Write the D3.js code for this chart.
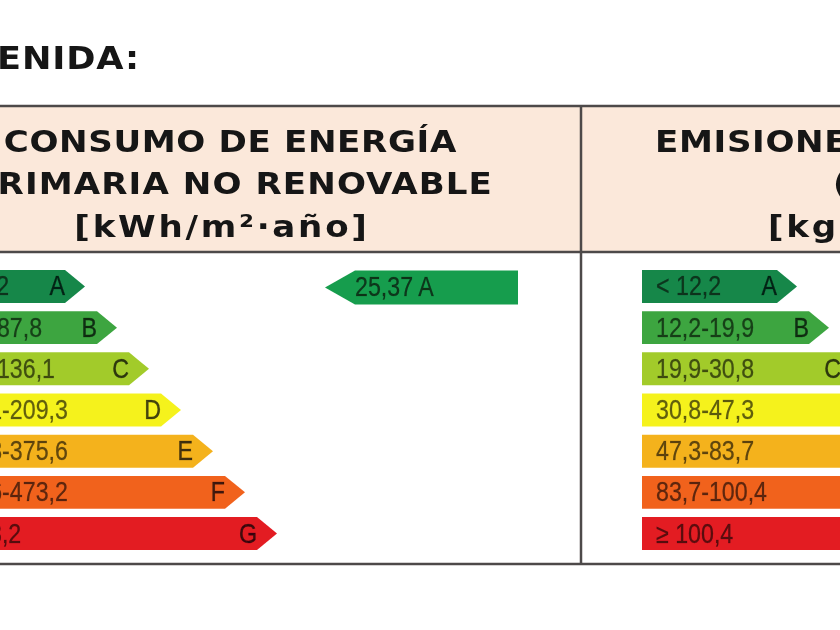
<!DOCTYPE html>
<html><head><meta charset="utf-8">
<script src="https://cdn.jsdelivr.net/npm/d3@7"></script>
<style>html,body{margin:0;padding:0;background:#fff;overflow:hidden}</style>
</head><body>
<svg id="c" width="840" height="630"></svg>
<script>
const classes = ["A","B","C","D","E","F","G"];
const energyRanges = ["< 54,2","54,2-87,8","87,8-136,1","136,1-209,3","209,3-375,6","375,6-473,2","≥ 473,2"];
const emissionRanges = ["< 12,2","12,2-19,9","19,9-30,8","30,8-47,3","47,3-83,7","83,7-100,4","≥ 100,4"];
const classColors = ["#14874a","#3ca540","#a2cb2c","#f5f21e","#f4b21e","#f1621f","#e31b24"];
const energyValue = "25,37";
const energyClass = "A";
const titleText = "CALIFICACIÓN ENERGÉTICA OBTENIDA:";
const energyHeader = ["CONSUMO DE ENERGÍA","PRIMARIA NO RENOVABLE","[kWh/m²·año]"];
const emissionHeader = ["EMISIONES DE DIÓXIDO","(CO₂)","[kgCO₂/m²·año]"];

const svg = d3.select("#c");
svg.append("rect").attr("width",840).attr("height",630).attr("fill","#fff");
const defs = svg.append("defs");
defs.append("filter").attr("id","soft").append("feGaussianBlur").attr("stdDeviation",0.45);
const root = svg.append("g").attr("filter","url(#soft)");

const y = d3.scaleBand().domain(classes).range([270,550]).paddingInner(0.2);
const len = d3.scaleLinear().domain([0,6]).range([155,347]);
const color = d3.scaleOrdinal().domain(classes).range(classColors);
const head = 20;
const SX = 1.1;

function boldText(parent, x, yy, txt, anchor, size, ls){
  return parent.append("text").attr("transform",`translate(${x},${yy}) scale(${SX},1)`)
    .attr("text-anchor",anchor).attr("font-family","DejaVu Sans").attr("font-weight","bold")
    .attr("font-size",size).attr("letter-spacing",ls).attr("fill","#131313").text(txt);
}

// title
boldText(root, 140, 69, titleText, "end", 32, 0.8);

// header band
root.append("rect").attr("x",-10).attr("y",106).attr("width",860).attr("height",146).attr("fill","#fbe8da");
const line = (x1,y1,x2,y2)=>root.append("line").attr("x1",x1).attr("y1",y1).attr("x2",x2).attr("y2",y2)
  .attr("stroke","#4d4a48").attr("stroke-width",2.5);
line(-10,106,850,106); line(-10,252,850,252); line(-10,564,850,564); line(581,106,581,564);

// header texts
boldText(root, 457, 152, energyHeader[0], "end", 31, 0.6);
boldText(root, 493, 194, energyHeader[1], "end", 31, 1.0);
boldText(root, 222, 237, energyHeader[2], "middle", 31, 2.5);
boldText(root, 655, 152, emissionHeader[0], "start", 31, 0.6);
boldText(root, 833, 194, emissionHeader[1], "start", 31, 0.6);
boldText(root, 768, 237, emissionHeader[2], "start", 31, 2.5);

function arrowRight(x0,L,yy,h){
  const p = d3.path();
  p.moveTo(x0,yy); p.lineTo(x0+L-head,yy); p.lineTo(x0+L,yy+h/2); p.lineTo(x0+L-head,yy+h);
  p.lineTo(x0,yy+h); p.closePath(); return p.toString();
}

function panel(px, ranges){
  const g = root.append("g").attr("transform",`translate(${px},0)`);
  const x0 = 61;
  const rows = g.selectAll("g.row").data(classes).join("g").attr("class","row");
  rows.append("path").attr("d",(d,i)=>arrowRight(x0,len(i),y(d),y.bandwidth())).attr("fill",d=>color(d));
  rows.append("text").attr("transform",d=>`translate(${x0+14},${y(d)+y.bandwidth()/2+9}) scale(0.86,1)`)
    .attr("font-family","Liberation Sans").attr("font-size",27).attr("fill","#000").attr("fill-opacity",0.6)
    .attr("stroke","#000").attr("stroke-opacity",0.3).attr("stroke-width",0.5)
    .text((d,i)=>ranges[i]);
  rows.append("text").attr("transform",(d,i)=>`translate(${x0+len(i)-head},${y(d)+y.bandwidth()/2+9}) scale(0.86,1)`)
    .attr("text-anchor","end").attr("font-family","Liberation Sans").attr("font-size",27)
    .attr("fill","#000").attr("fill-opacity",0.72).attr("stroke","#000").attr("stroke-opacity",0.4).attr("stroke-width",0.6)
    .text(d=>d);
  return g;
}
panel(-131, energyRanges);
panel(581, emissionRanges);

// indicator (pointing left)
const ih = y.bandwidth()+1, iy = y(energyClass)+0.5, ix0 = 325, ix1 = 518, ihead = 30;
const ip = d3.path();
ip.moveTo(ix0, iy+ih/2); ip.lineTo(ix0+ihead, iy); ip.lineTo(ix1, iy); ip.lineTo(ix1, iy+ih);
ip.lineTo(ix0+ihead, iy+ih); ip.closePath();
root.append("path").attr("d",ip.toString()).attr("fill","#189d4d");
root.append("text").attr("transform",`translate(${ix0+ihead},${iy+ih/2+9}) scale(0.86,1)`)
  .attr("font-family","Liberation Sans").attr("font-size",27).attr("fill","#000").attr("fill-opacity",0.65)
  .attr("stroke","#000").attr("stroke-opacity",0.3).attr("stroke-width",0.5)
  .text(energyValue+" "+energyClass);
</script>
</body></html>
